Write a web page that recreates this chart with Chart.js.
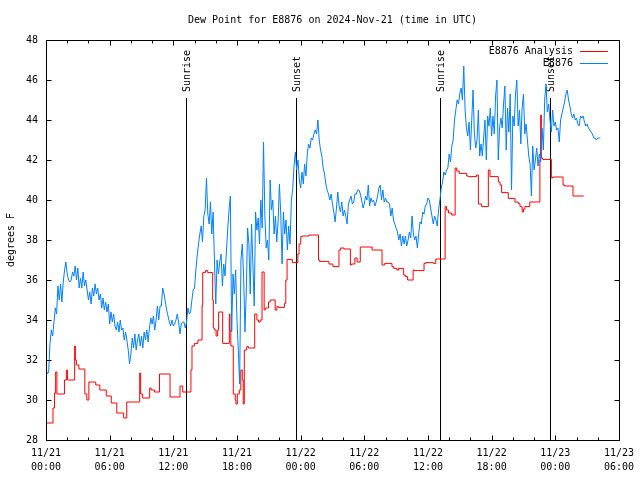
<!DOCTYPE html>
<html>
<head>
<meta charset="utf-8">
<script src="https://cdn.jsdelivr.net/npm/chart.js@4.4.0/dist/chart.umd.min.js"></script>
<style>
  html, body { margin: 0; padding: 0; background: #fff; }
</style>
</head>
<body>
<canvas id="chartCanvas" width="640" height="480"></canvas>
<script>
// hours since 2024-11-21 00:00 UTC
const xMin = 0, xMax = 54;
const yMin = 28, yMax = 48;

// observed dew point (E8876), one reading every 7.5 min from 00:00, one row per hour
const blueStart = 0, blueStep = 0.125;
const blueValues = [
  31.6, 31.3, 31.4, 32.8, 33.5, 33.2, 33.9, 34.6,
  34.3, 35.7, 35.0, 35.8, 34.9, 35.9, 36.5, 36.9,
  36.3, 36.0, 35.9, 36.0, 36.4, 36.2, 36.7, 36.0,
  36.6, 35.6, 36.1, 35.6, 36.4, 35.7, 36.0, 35.5,
  35.0, 35.4, 34.8, 35.6, 35.2, 35.8, 35.3, 35.6,
  35.0, 35.3, 34.6, 35.1, 34.5, 34.9, 34.4, 34.8,
  33.8, 34.4, 33.9, 34.3, 33.7, 33.5, 33.9, 33.4,
  34.0, 33.5, 33.6, 33.0, 33.4, 33.0, 32.5, 31.8,
  32.3, 33.1, 32.6, 33.3, 32.5, 33.0, 33.3, 32.7,
  33.2, 32.6, 33.4, 33.0, 33.5, 32.9, 33.6, 34.1,
  33.8, 34.2, 33.5, 34.0, 34.7, 34.0, 34.7, 34.7,
  35.6, 35.3, 34.9, 34.5, 34.2, 33.9, 33.7, 34.0,
  33.7, 33.8, 34.0, 34.3, 33.9, 33.3, 33.8, 33.9,
  33.9, 33.6, 33.9, 34.6, 34.3, 34.4, 35.0, 35.5,
  35.6, 36.5, 37.2, 37.8, 38.3, 38.7, 37.9, 39.2,
  39.5, 41.1, 39.3, 38.8, 39.9, 38.3, 39.4, 37.0,
  34.8, 37.0, 36.3, 36.9, 37.3, 35.7, 36.8, 36.2,
  37.4, 38.5, 39.5, 40.2, 33.4, 36.3, 35.3, 36.5,
  34.0, 32.5, 30.8, 37.0, 37.8, 36.2, 33.4, 35.4,
  38.6, 37.8, 35.3, 38.8, 36.8, 34.7, 39.4, 38.5,
  39.1, 37.8, 40.0, 38.6, 42.9, 39.3, 37.6, 38.0,
  37.0, 41.0, 39.5, 40.0, 38.3, 39.2, 37.9, 38.9,
  40.8, 39.3, 36.8, 39.4, 38.3, 39.0, 37.5, 38.7,
  37.8, 40.0, 40.5, 41.7, 42.4, 41.5, 42.0, 41.0,
  40.6, 41.4, 40.8, 41.8, 41.2, 42.3, 42.8, 42.6,
  43.1, 43.0, 43.3, 43.5, 43.3, 44.0, 43.0, 42.5,
  42.2, 41.6, 41.3, 40.8, 40.5, 40.3, 40.0, 40.3,
  39.8, 39.4, 38.9, 39.6, 40.4, 39.7, 39.4, 39.9,
  39.2, 39.5, 39.2, 38.8, 39.8, 40.0, 40.2, 39.8,
  39.9, 40.3, 40.3, 40.5, 40.5, 40.3, 40.0, 39.6,
  39.8, 40.2, 40.0, 40.75, 39.7, 40.1, 39.9, 40.0,
  39.7, 39.9, 40.2, 40.6, 40.75, 40.0, 40.5, 39.9,
  40.1, 39.9, 39.9, 39.8, 39.2, 39.6, 39.0, 38.8,
  38.6, 38.4, 38.0, 38.3, 37.7, 38.2, 37.8, 38.2,
  37.7, 38.0, 38.4, 38.1, 39.2, 38.3, 38.0, 38.2,
  37.6, 38.3, 38.9, 38.8, 39.4, 39.3, 39.7, 39.8,
  40.1, 40.0, 39.6, 39.2, 38.8, 39.2, 39.0, 38.7,
  39.5, 40.0, 40.6, 40.9, 41.4, 41.25, 41.5, 41.6,
  42.3, 41.9, 42.7, 43.0, 44.0, 44.5, 45.0, 44.8,
  45.3, 45.6, 45.0, 46.7, 44.5, 43.6, 43.2, 43.9,
  42.5, 44.0, 45.5, 43.3, 42.6, 43.0, 44.5, 42.2,
  42.8, 42.2, 43.1, 44.0, 42.0, 44.2, 43.7, 44.6,
  43.2, 44.2, 43.3, 45.2, 46.0, 42.0, 43.6, 44.1,
  43.6, 44.8, 45.7, 42.5, 44.6, 43.4, 45.3, 40.5,
  44.2, 43.7, 45.3, 46.0, 43.7, 44.5, 42.8, 44.6,
  45.3, 43.3, 43.8, 43.0, 42.2, 41.8, 40.2, 42.7,
  41.5, 42.0, 42.6, 41.7, 42.3, 41.9, 43.6, 42.5,
  45.0, 45.8, 44.4, 44.8, 44.0, 43.4, 44.5, 43.7,
  43.9, 43.5, 43.6, 42.9, 44.0, 44.3, 44.6, 44.9,
  45.3, 45.5, 45.0, 44.7, 44.3, 44.1, 44.3, 44.0,
  44.1, 43.8, 43.7, 44.2, 44.1, 44.2, 43.9, 43.7,
  43.8, 43.6, 43.5, 43.4, 43.3, 43.1, 43.1, 43.0,
  43.1, 43.1, 43.1
];

// analysis dew point, each value holds from its time until the next one
const redTimes = [
  0.07, 0.66, 0.8, 0.91, 1.03, 1.74, 1.92, 2.02, 2.7, 2.77, 2.86, 3.1,
  3.66, 3.85, 4.04, 4.69, 5.07, 5.68, 6.15, 6.67, 7.32, 7.61, 8.83, 8.92,
  9.11, 9.77, 9.91, 10.23, 10.7, 11.69, 12.63, 12.89, 13.66, 13.76, 13.99, 14.32,
  14.71, 14.77, 15.02, 15.24, 15.71, 15.77, 15.87, 16.03, 16.18, 16.27, 16.65, 17.28,
  17.34, 17.42, 17.65, 17.84, 17.9, 18.03, 18.22, 18.36, 18.5, 18.59, 18.69, 18.92,
  19.09, 19.67, 19.88, 20.03, 20.19, 20.36, 20.56, 20.66, 20.97, 21.13, 21.6, 21.76,
  21.91, 22.47, 22.6, 22.72, 23.22, 23.74, 23.85, 24.01, 24.16, 24.79, 25.68, 25.79,
  26.67, 27.04, 27.61, 27.77, 28.08, 28.69, 28.78, 29.11, 29.32, 29.62, 30.73, 31.67,
  31.92, 32.61, 32.77, 33.08, 33.24, 33.71, 33.87, 34.08, 34.6, 34.74, 35.63, 35.8,
  36.53, 36.74, 37.62, 37.75, 37.93, 38.24, 38.56, 38.71, 38.94, 39.65, 39.81, 40.59,
  40.75, 41.06, 41.69, 41.85, 42.63, 42.79, 42.94, 43.57, 44.2, 44.51, 44.67, 44.88,
  45.0, 45.14, 45.6, 46.55, 46.62, 46.69, 46.81, 47.63, 47.75, 48.73, 48.89, 49.67,
  50.68
];
const redValues = [
  28.85, 29.6, 30.35, 31.4, 30.3, 31.0, 31.5, 31.0, 32.7, 32.0, 31.75, 31.55,
  30.3, 30.0, 30.9, 30.75, 30.5, 30.2, 29.85, 29.35, 29.1, 29.9, 31.35, 30.3,
  30.1, 30.6, 30.5, 30.4, 31.3, 30.15, 30.7, 30.4, 31.5, 32.7, 32.83, 33.0,
  34.7, 36.37, 36.47, 36.37, 35.0, 33.6, 33.5, 33.2, 33.5, 34.4, 32.83, 34.3,
  33.5, 32.7, 30.3, 30.0, 29.8, 30.3, 30.5, 31.5, 31.0, 29.8, 32.5, 32.67,
  32.6, 34.3, 34.0, 33.9, 34.0, 36.4, 34.5, 34.6, 34.9, 35.0, 34.5, 34.67,
  34.63, 34.83, 36.0, 37.03, 36.87, 37.3, 37.8, 38.17, 38.2, 38.25, 37.0, 36.93,
  36.8, 36.67, 37.5, 37.6, 37.55, 36.75, 36.8, 37.1, 36.9, 37.65, 37.5, 36.75,
  36.83, 36.67, 36.58, 36.5, 36.58, 36.25, 36.17, 36.0, 36.5, 36.47, 36.83, 36.87,
  36.83, 37.05, 39.67, 39.5, 39.35, 39.25, 41.6, 41.45, 41.33, 41.2, 41.17, 41.25,
  39.8, 39.67, 41.5, 41.17, 40.9, 40.75, 40.37, 40.08, 39.9, 39.83, 39.67, 39.4,
  39.55, 39.67, 39.9, 42.0, 44.25, 42.1, 42.03, 41.1, 41.15, 40.75, 40.7, 40.2,
  40.2
];

const sunTimes = [13.17, 23.52, 37.16, 47.5];
const sunLabels = ["Sunrise", "Sunset", "Sunrise", "Sunset"];
const sunLineTop = 45.1;

const titleText = "Dew Point for E8876 on 2024-Nov-21 (time in UTC)";
const yTitle = "degrees F";
const FONT = '10px "DejaVu Sans Mono", monospace';

function fmtTick(v) {
  const day = 21 + Math.floor(v / 24);
  const hr = v % 24;
  return ["11/" + day, String(hr).padStart(2, "0") + ":00"];
}

const blueData = blueValues.map((v, i) => ({ x: blueStart + i * blueStep, y: v }));
const redData = redTimes.map((t, i) => ({ x: t, y: redValues[i] }));

const decor = {
  id: "decor",
  beforeDatasetsDraw(chart) {
    const { ctx, chartArea: a, scales: { x, y } } = chart;
    ctx.save();
    ctx.strokeStyle = "#000";
    ctx.fillStyle = "#000";
    ctx.lineWidth = 1;
    ctx.font = FONT;
    const top = Math.round(y.getPixelForValue(sunLineTop));
    sunTimes.forEach((t, i) => {
      const px = Math.round(x.getPixelForValue(t)) + 0.5;
      ctx.beginPath();
      ctx.moveTo(px, top);
      ctx.lineTo(px, a.bottom);
      ctx.stroke();
      ctx.save();
      ctx.translate(px + 1, top - 6);
      ctx.rotate(-Math.PI / 2);
      ctx.textAlign = "left";
      ctx.textBaseline = "middle";
      ctx.fillText(sunLabels[i], 0, 0);
      ctx.restore();
    });
    ctx.restore();
  },
  afterDraw(chart) {
    const { ctx, chartArea: a, scales: { x, y } } = chart;
    ctx.save();
    ctx.strokeStyle = "#000";
    ctx.fillStyle = "#000";
    ctx.lineWidth = 1;
    const L = Math.round(a.left) + 0.5, R = Math.round(a.right) + 0.5;
    const T = Math.round(a.top) + 0.5, B = Math.round(a.bottom) + 0.5;
    ctx.beginPath();
    ctx.rect(L, T, R - L, B - T);
    // inward ticks, mirrored
    for (let v = xMin; v <= xMax; v += 2) {
      const px = Math.round(x.getPixelForValue(v)) + 0.5;
      const len = v % 6 === 0 ? 5 : 3;
      ctx.moveTo(px, B); ctx.lineTo(px, B - len);
      ctx.moveTo(px, T); ctx.lineTo(px, T + len);
    }
    for (let v = yMin; v <= yMax; v += 2) {
      const py = Math.round(y.getPixelForValue(v)) + 0.5;
      ctx.moveTo(L, py); ctx.lineTo(L + 5, py);
      ctx.moveTo(R, py); ctx.lineTo(R - 5, py);
    }
    ctx.stroke();

    ctx.font = FONT;
    ctx.textAlign = "center";
    ctx.textBaseline = "middle";
    ctx.fillText(titleText, (a.left + a.right) / 2, 20);
    ctx.save();
    ctx.translate(11, (a.top + a.bottom) / 2);
    ctx.rotate(-Math.PI / 2);
    ctx.fillText(yTitle, 0, 0);
    ctx.restore();

    // key, top right inside the frame
    chart.data.datasets.forEach((ds, i) => {
      const yy = Math.round(a.top + 11 + i * 12) + 0.5;
      ctx.textAlign = "right";
      ctx.fillStyle = "#000";
      ctx.fillText(ds.label, a.right - 46, yy);
      ctx.strokeStyle = ds.borderColor;
      ctx.beginPath();
      ctx.moveTo(a.right - 39, yy);
      ctx.lineTo(a.right - 11, yy);
      ctx.stroke();
    });
    ctx.restore();
  }
};

const chart = new Chart(document.getElementById("chartCanvas"), {
  type: "line",
  data: {
    datasets: [
      {
        label: "E8876 Analysis",
        data: redData,
        borderColor: "#ff0000",
        borderWidth: 1,
        pointRadius: 0,
        stepped: true,
        order: 2
      },
      {
        label: "E8876",
        data: blueData,
        borderColor: "#0080ff",
        borderWidth: 1,
        pointRadius: 0,
        tension: 0,
        order: 1
      }
    ]
  },
  options: {
    responsive: false,
    animation: false,
    layout: { padding: { top: 40, right: 19, left: 0, bottom: 0 } },
    plugins: { legend: { display: false }, tooltip: { enabled: false }, title: { display: false } },
    scales: {
      x: {
        type: "linear",
        min: xMin,
        max: xMax,
        border: { display: false },
        grid: { display: false, drawTicks: false },
        ticks: {
          stepSize: 6,
          autoSkip: false,
          maxRotation: 0,
          padding: 6,
          color: "#000",
          font: { family: '"DejaVu Sans Mono", monospace', size: 10, lineHeight: 1.4 },
          callback: (v) => fmtTick(v)
        },
        afterFit: (s) => { s.height = 40; }
      },
      y: {
        min: yMin,
        max: yMax,
        border: { display: false },
        grid: { display: false, drawTicks: false },
        ticks: {
          stepSize: 2,
          padding: 8,
          color: "#000",
          font: { family: '"DejaVu Sans Mono", monospace', size: 10 }
        },
        afterFit: (s) => { s.width = 46; }
      }
    }
  },
  plugins: [decor]
});
</script>
</body>
</html>
